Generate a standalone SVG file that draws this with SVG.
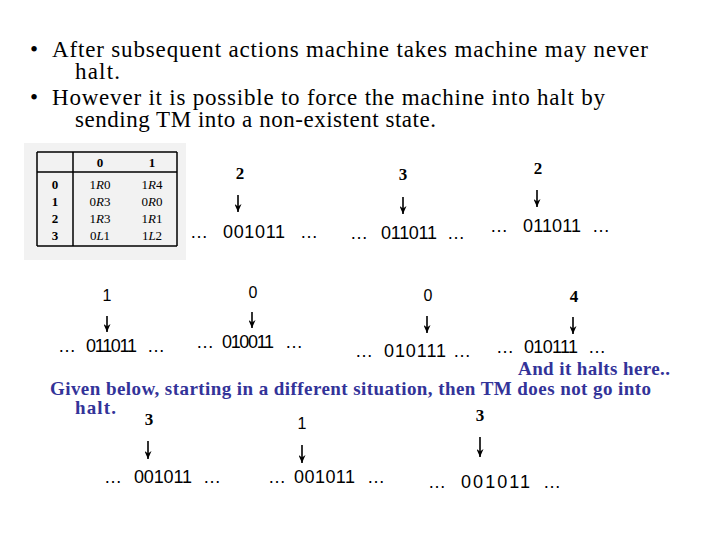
<svg xmlns="http://www.w3.org/2000/svg" width="720" height="540" viewBox="0 0 720 540">
<defs>
<marker id="ah" markerWidth="7" markerHeight="8" refX="3.5" refY="8" orient="0" markerUnits="userSpaceOnUse">
<path d="M0,0 L3.5,8 L7,0 L3.5,2.5 Z" fill="#000"/>
</marker>
<style>
.body{font-family:"Liberation Serif","Times New Roman",serif;font-size:23px;fill:#000}
.blue{font-family:"Liberation Serif","Times New Roman",serif;font-size:19px;font-weight:bold;fill:#333399}
.tb{font-family:"Liberation Serif","Times New Roman",serif;font-size:13px;fill:#000}
.tbh{font-family:"Liberation Serif","Times New Roman",serif;font-size:13px;font-weight:bold;fill:#000}
.st{font-family:"Liberation Serif","Times New Roman",serif;font-size:17px;font-weight:bold;fill:#000;text-anchor:middle}
.st2{font-family:"Liberation Sans",Arial,sans-serif;font-size:16px;fill:#000;text-anchor:middle}
.tape{font-family:"Liberation Sans",Arial,sans-serif;font-size:18px;fill:#000}
.tl{stroke:#000;stroke-width:1.5;fill:none}
.ar{stroke:#000;stroke-width:1.6;fill:none;marker-end:url(#ah)}
</style>
</defs>
<rect width="720" height="540" fill="#fff"/>

<g id="bullets">
<text class="body" x="30" y="57">•</text>
<text class="body" x="52" y="57" textLength="596" lengthAdjust="spacing">After subsequent actions machine takes machine may never</text>
<text class="body" x="75" y="79" textLength="45" lengthAdjust="spacing">halt.</text>
<text class="body" x="30" y="105">•</text>
<text class="body" x="52" y="105" textLength="553" lengthAdjust="spacing">However it is possible to force the machine into halt by</text>
<text class="body" x="75" y="127" textLength="361" lengthAdjust="spacing">sending TM into a non-existent state.</text>
</g>

<g id="table">
<rect x="24" y="143" width="162" height="117" fill="#f2f2f2"/>
<line class="tl" x1="37" y1="152" x2="177" y2="152"/>
<line class="tl" x1="37" y1="172" x2="177" y2="172"/>
<line class="tl" x1="37" y1="246" x2="177" y2="246"/>
<line class="tl" x1="37" y1="152" x2="37" y2="246"/>
<line class="tl" x1="73" y1="152" x2="73" y2="246"/>
<line class="tl" x1="177" y1="152" x2="177" y2="246"/>
<text class="tbh" x="100" y="167" text-anchor="middle">0</text>
<text class="tbh" x="152" y="167" text-anchor="middle">1</text>
<g text-anchor="middle">
<text class="tbh" x="55" y="189">0</text>
<text class="tbh" x="55" y="206">1</text>
<text class="tbh" x="55" y="223">2</text>
<text class="tbh" x="55" y="240">3</text>
<text class="tb" x="100" y="189">1<tspan font-style="italic">R</tspan>0</text>
<text class="tb" x="100" y="206">0<tspan font-style="italic">R</tspan>3</text>
<text class="tb" x="100" y="223">1<tspan font-style="italic">R</tspan>3</text>
<text class="tb" x="100" y="240">0<tspan font-style="italic">L</tspan>1</text>
<text class="tb" x="152" y="189">1<tspan font-style="italic">R</tspan>4</text>
<text class="tb" x="152" y="206">0<tspan font-style="italic">R</tspan>0</text>
<text class="tb" x="152" y="223">1<tspan font-style="italic">R</tspan>1</text>
<text class="tb" x="152" y="240">1<tspan font-style="italic">L</tspan>2</text>
</g>
</g>

<g id="connectors">
<line class="ar" x1="238" y1="195" x2="238" y2="212"/>
<line class="ar" x1="403" y1="197" x2="403" y2="214"/>
<line class="ar" x1="537" y1="190" x2="537" y2="207"/>
<line class="ar" x1="107" y1="316" x2="107" y2="332"/>
<line class="ar" x1="252" y1="312" x2="252" y2="328"/>
<line class="ar" x1="427" y1="316" x2="427" y2="333"/>
<line class="ar" x1="573" y1="317" x2="573" y2="334"/>
<line class="ar" x1="148" y1="441" x2="148" y2="459"/>
<line class="ar" x1="302" y1="445" x2="302" y2="463"/>
<line class="ar" x1="480" y1="437" x2="480" y2="457"/>
</g>

<g id="c1">
<text class="st" x="240" y="179">2</text>
<text class="tape" y="238"><tspan x="190">…</tspan><tspan x="223" textLength="62">001011</tspan><tspan x="300">…</tspan></text>
</g>
<g id="c2">
<text class="st" x="403" y="180">3</text>
<text class="tape" y="239"><tspan x="350">…</tspan><tspan x="381" textLength="56">011011</tspan><tspan x="447">…</tspan></text>
</g>
<g id="c3">
<text class="st" x="538" y="174">2</text>
<text class="tape" y="232"><tspan x="490">…</tspan><tspan x="523" textLength="58">011011</tspan><tspan x="592">…</tspan></text>
</g>
<g id="c4">
<text class="st2" x="107" y="301">1</text>
<text class="tape" y="352"><tspan x="58">…</tspan><tspan x="86" textLength="51">011011</tspan><tspan x="147">…</tspan></text>
</g>
<g id="c5">
<text class="st2" x="253" y="298">0</text>
<text class="tape" y="348"><tspan x="196">…</tspan><tspan x="222" textLength="52">010011</tspan><tspan x="285">…</tspan></text>
</g>
<g id="c6">
<text class="st2" x="428" y="301">0</text>
<text class="tape" y="357"><tspan x="355">…</tspan><tspan x="384" textLength="62">010111</tspan><tspan x="453">…</tspan></text>
</g>
<g id="c7">
<text class="st" x="574" y="302">4</text>
<text class="tape" y="353"><tspan x="496">…</tspan><tspan x="524" textLength="54">010111</tspan><tspan x="588">…</tspan></text>
</g>

<g id="notes">
<text class="blue" x="518" y="375" textLength="152" lengthAdjust="spacing">And it halts here..</text>
<text class="blue" x="50" y="395" textLength="601" lengthAdjust="spacing">Given below, starting in a different situation, then TM does not go into</text>
<text class="blue" x="75" y="414" textLength="41" lengthAdjust="spacing">halt.</text>
</g>

<g id="c8">
<text class="st" x="149" y="425">3</text>
<text class="tape" y="483"><tspan x="104">…</tspan><tspan x="134" textLength="58">001011</tspan><tspan x="203">…</tspan></text>
</g>
<g id="c9">
<text class="st2" x="302" y="429">1</text>
<text class="tape" y="483"><tspan x="268">…</tspan><tspan x="294" textLength="61">001011</tspan><tspan x="367">…</tspan></text>
</g>
<g id="c10">
<text class="st" x="480" y="421">3</text>
<text class="tape" y="488" font-size="21"><tspan x="428">…</tspan><tspan x="461" textLength="69">001011</tspan><tspan x="543">…</tspan></text>
</g>
</svg>
